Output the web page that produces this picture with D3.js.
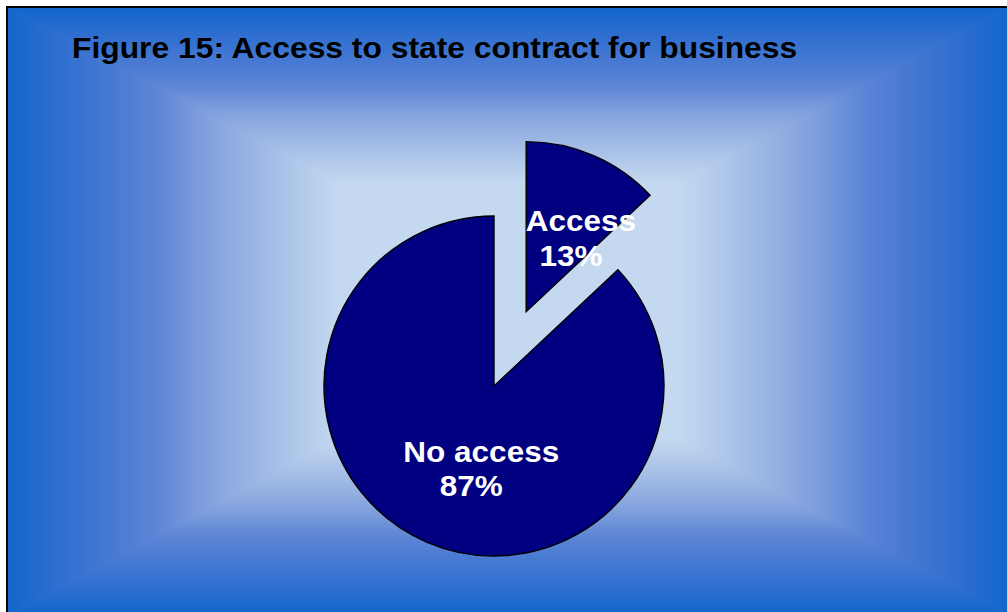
<!DOCTYPE html>
<html>
<head>
<meta charset="utf-8">
<script src="https://cdn.jsdelivr.net/npm/d3@7"></script>
<style>
  html, body { margin: 0; padding: 0; background: #ffffff; }
  svg { display: block; }
  text { font-family: "Liberation Sans", Arial, Helvetica, sans-serif; font-weight: bold; }
</style>
</head>
<body>
<svg id="chart" width="1007" height="612"></svg>
<script>
// Survey result: access to state contracts for business
const categories = ["Access", "No access"];
const values = [13, 87];
const title = "Figure 15: Access to state contract for business";

const W = 1007, H = 612;
const svg = d3.select("#chart");
const defs = svg.append("defs");

// ---- Panel with a rectangular "from centre" gradient ----
const frame = { x0: 7, y0: 7, x1: 1010, y1: 615 };
const inner = { x0: 340, y0: 183, x1: 677, y1: 439 };
const stops = [
  [0.00, "#1166cc"], [0.13, "#2a6cce"], [0.28, "#4277d2"], [0.43, "#5a83d5"],
  [0.58, "#7d9ddc"], [0.67, "#8fabe0"], [0.85, "#adc5e9"], [1.00, "#c4d9f0"]
];
function grad(id, x1, y1, x2, y2) {
  const g = defs.append("linearGradient").attr("id", id)
    .attr("gradientUnits", "userSpaceOnUse")
    .attr("x1", x1).attr("y1", y1).attr("x2", x2).attr("y2", y2);
  stops.forEach(s => g.append("stop").attr("offset", s[0]).attr("stop-color", s[1]));
}
grad("gTop", 0, frame.y0, 0, inner.y0);
grad("gBottom", 0, frame.y1, 0, inner.y1);
grad("gLeft", frame.x0, 0, inner.x0, 0);
grad("gRight", frame.x1, 0, inner.x1, 0);

const bg = svg.append("g");
bg.append("rect").attr("x", frame.x0).attr("y", frame.y0)
  .attr("width", frame.x1 - frame.x0).attr("height", frame.y1 - frame.y0)
  .attr("fill", "#6a8fd8");
const F = frame, I = inner;
const panels = [
  ["gTop",    [[F.x0, F.y0], [F.x1, F.y0], [I.x1, I.y0], [I.x0, I.y0]]],
  ["gBottom", [[F.x0, F.y1], [F.x1, F.y1], [I.x1, I.y1], [I.x0, I.y1]]],
  ["gLeft",   [[F.x0, F.y0], [I.x0, I.y0], [I.x0, I.y1], [F.x0, F.y1]]],
  ["gRight",  [[F.x1, F.y0], [I.x1, I.y0], [I.x1, I.y1], [F.x1, F.y1]]]
];
panels.forEach(([id, pts]) => {
  bg.append("polygon").attr("points", pts.map(p => p.join(",")).join(" "))
    .attr("fill", `url(#${id})`).attr("stroke", `url(#${id})`).attr("stroke-width", 0.6);
});
bg.append("rect").attr("x", I.x0).attr("y", I.y0)
  .attr("width", I.x1 - I.x0).attr("height", I.y1 - I.y0).attr("fill", "#c4d9f0");
bg.append("rect").attr("x", frame.x0).attr("y", frame.y0)
  .attr("width", frame.x1 - frame.x0).attr("height", frame.y1 - frame.y0)
  .attr("fill", "none").attr("stroke", "#000").attr("stroke-width", 2);

// ---- Title ----
const t = svg.append("text").attr("x", 72).attr("y", 58)
  .attr("font-size", 30).attr("fill", "#000").text(title);
t.attr("textLength", t.node().getComputedTextLength() * 1.06)
 .attr("lengthAdjust", "spacingAndGlyphs");

// ---- Pie ----
const cx = 494, cy = 386, R = 170;
const explode = [81, 0];           // outward offset of each slice
const pie = d3.pie().sort(null).value(d => d);
const arcs = pie(values);
const arc = d3.arc().innerRadius(0).outerRadius(R);

const g = svg.append("g").attr("transform", `translate(${cx},${cy})`);
arcs.forEach((a, i) => {
  const mid = (a.startAngle + a.endAngle) / 2;
  const ox = Math.sin(mid) * explode[i], oy = -Math.cos(mid) * explode[i];
  const sg = g.append("g").attr("transform", `translate(${ox},${oy})`);
  sg.append("path").attr("d", arc(a))
    .attr("fill", "#000080").attr("stroke", "#000").attr("stroke-width", 1.4)
    .attr("stroke-linejoin", "miter");
});

// ---- Data labels ----
arcs.forEach((a, i) => {
  const mid = (a.startAngle + a.endAngle) / 2;
  const ox = Math.sin(mid) * explode[i], oy = -Math.cos(mid) * explode[i];
  const [lx, ly] = arc.centroid(a);
  const bx = lx + ox + 16, by = ly + oy + 4.5;
  const pct = Math.round(values[i] / d3.sum(values) * 100) + "%";
  const lines = [[categories[i], 5, -7], [pct, -5, 27.5]];
  lines.forEach(([txt, dx, dy]) => {
    const el = g.append("text").attr("x", bx + dx).attr("y", by + dy)
      .attr("text-anchor", "middle").attr("font-size", 30).attr("fill", "#ffffff").text(txt);
    el.attr("textLength", el.node().getComputedTextLength() * 1.05)
      .attr("lengthAdjust", "spacingAndGlyphs");
  });
});
</script>
</body>
</html>
